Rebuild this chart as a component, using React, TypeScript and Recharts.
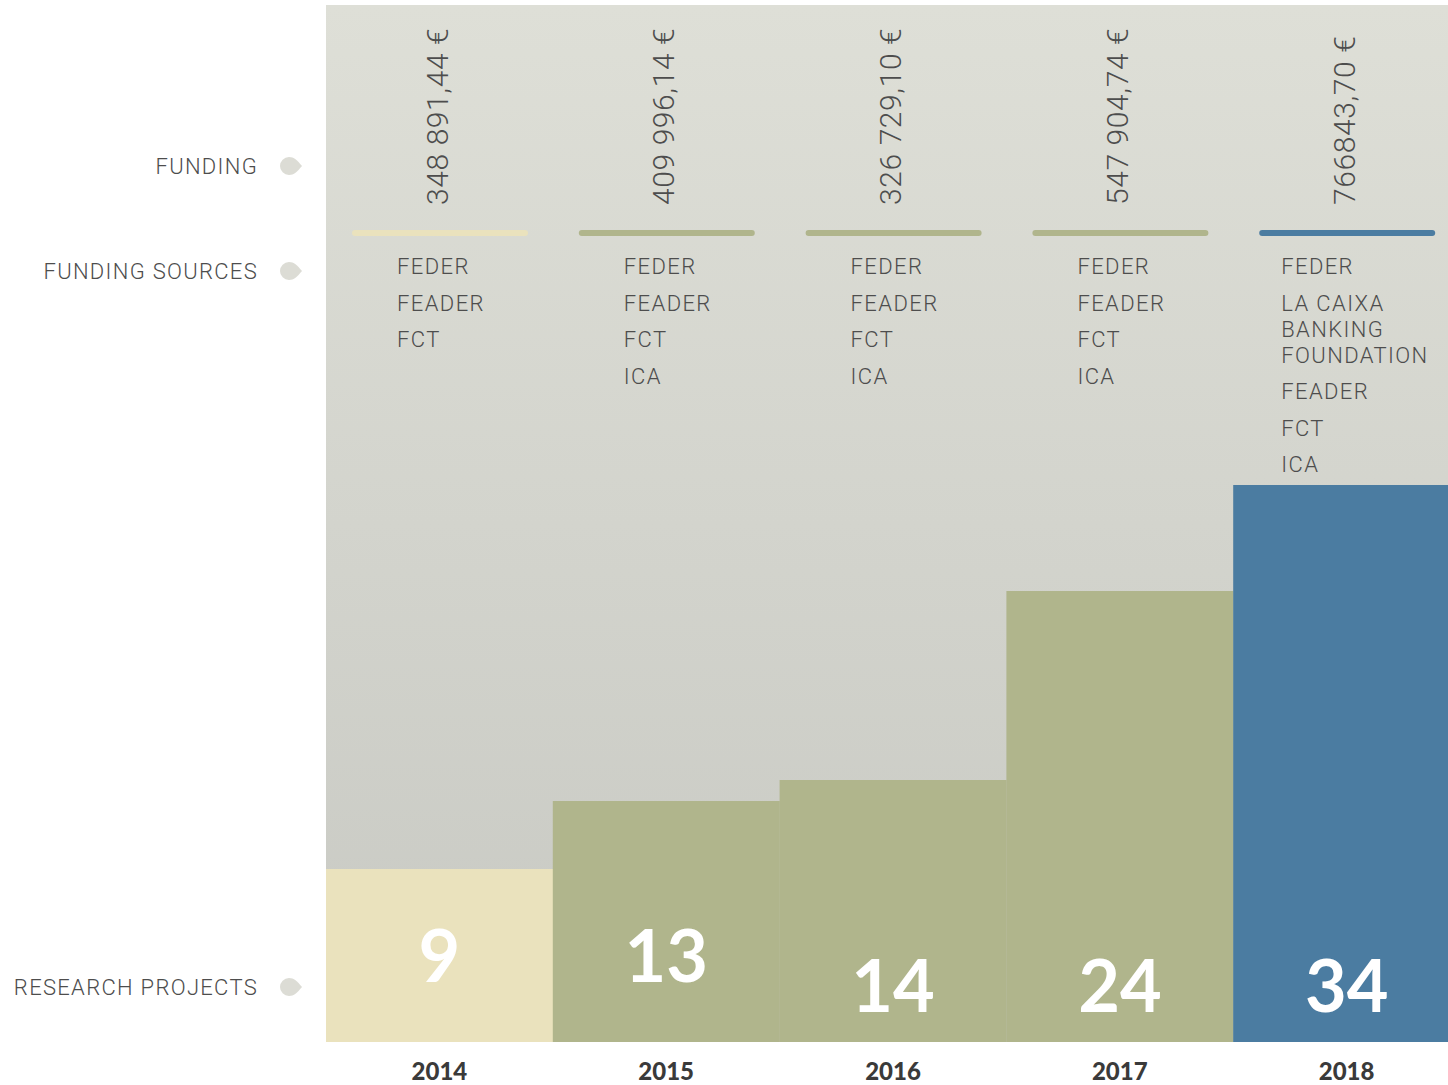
import React from 'react';
import { BarChart, Bar, XAxis, YAxis, CartesianGrid, Cell, LabelList, Customized } from 'recharts';

// values
const years = ['2014', '2015', '2016', '2017', '2018'];
const projects = [9, 13, 14, 24, 34];
// bar top as drawn (plot is 1037 units tall, not proportional to project count)
const barLevel = [173, 241, 262, 451, 557];
const funding = ['348 891,44 €', '409 996,14 €', '326 729,10 €', '547 904,74 €', '766843,70 €'];
const sources = [
  ['FEDER', 'FEADER', 'FCT'],
  ['FEDER', 'FEADER', 'FCT', 'ICA'],
  ['FEDER', 'FEADER', 'FCT', 'ICA'],
  ['FEDER', 'FEADER', 'FCT', 'ICA'],
  ['FEDER', 'LA CAIXA BANKING FOUNDATION', 'FEADER', 'FCT', 'ICA'],
];
const rowLabels = ['FUNDING', 'FUNDING SOURCES', 'RESEARCH PROJECTS'];

const colors = ['#eae2bd', '#b0b58c', '#b0b58c', '#b0b58c', '#4b7ca1'];

const data = years.map((year, i) => ({
  year,
  level: barLevel[i],
  projects: projects[i],
  funding: funding[i],
}));

const FONT = 'Roboto, "Noto Sans", sans-serif';
const TEXT = '#4d4d4d';
const PLOT_TOP = 5;

const wrap = (s: string, max: number) => {
  const words = s.split(' ');
  const lines: string[] = [];
  let cur = '';
  words.forEach((w) => {
    if (cur && (cur + ' ' + w).length > max) {
      lines.push(cur);
      cur = w;
    } else {
      cur = cur ? cur + ' ' + w : w;
    }
  });
  if (cur) lines.push(cur);
  return lines;
};

// funding amount, coloured rule and source list at the top of each column
const renderTop = (props: any) => {
  const { x, width, index } = props;
  const i = index ?? 0;
  const cx = x + width / 2;
  const items = sources[i].map((s) => wrap(s, 10));
  const hasWrap = items.some((l) => l.length > 1);
  const tx = hasWrap ? x + 48 : x + 71;
  let y = PLOT_TOP + 269;
  const texts: React.ReactNode[] = [];
  items.forEach((lines, k) => {
    lines.forEach((line, j) => {
      texts.push(
        <text key={`${k}-${j}`} x={tx} y={y} fontFamily={FONT} fontSize={22} fontWeight={300} letterSpacing={1.4} fill={TEXT}>
          {line}
        </text>
      );
      if (j < lines.length - 1) y += 26;
    });
    y += 36.6;
  });
  return (
    <g>
      <text
        x={cx + 8}
        y={PLOT_TOP + 200}
        transform={`rotate(-90 ${cx + 8} ${PLOT_TOP + 200})`}
        fontFamily={FONT}
        fontSize={30}
        fontWeight={300}
        letterSpacing={0.6}
        fill={TEXT}
      >
        {funding[i]}
      </text>
      <line x1={x + 29} x2={x + width - 28} y1={PLOT_TOP + 228} y2={PLOT_TOP + 228} stroke={colors[i]} strokeWidth={6} strokeLinecap="round" />
      {texts}
    </g>
  );
};

const renderCount = (props: any) => {
  const { x, y, width, height, value, index } = props;
  const base = y + height - (index < 2 ? 60 : 30);
  return (
    <text x={x + width / 2} y={base} textAnchor="middle" fontFamily="Lato, sans-serif" fontWeight={700} fontSize={72} fill="#ffffff">
      {value}
    </text>
  );
};

const YearTick = (props: any) => {
  const { x, payload } = props;
  return (
    <text x={x} y={1080} textAnchor="middle" fontFamily="Lato, sans-serif" fontWeight={900} fontSize={24} fill="#3a3a3a">
      {payload.value}
    </text>
  );
};

const marker = (cx: number, cy: number) =>
  `M ${cx + 13} ${cy} C ${cx + 8} ${cy - 6} ${cx + 5} ${cy - 9} ${cx} ${cy - 9} A 9 9 0 0 0 ${cx} ${cy + 9} C ${cx + 5} ${cy + 9} ${cx + 8} ${cy + 6} ${cx + 13} ${cy} Z`;

const LeftLabels = () => {
  const rows = [166, 271, 987];
  return (
    <g>
      {rowLabels.map((label, i) => (
        <g key={label}>
          <text x={258} y={rows[i] + 8} textAnchor="end" fontFamily={FONT} fontSize={22} fontWeight={300} letterSpacing={1.3} fill={TEXT}>
            {label}
          </text>
          <path d={marker(289, rows[i])} fill="#dcdcd5" />
        </g>
      ))}
    </g>
  );
};

const App = () => {
  return (
    <div style={{ position: 'absolute', left: 0, top: 0, width: 1448, height: 1085, overflow: 'hidden', background: '#fff' }}>
      <BarChart
        width={1460}
        height={1085}
        data={data}
        margin={{ top: PLOT_TOP, right: 0, left: 326, bottom: 0 }}
        barCategoryGap={0}
        barGap={0}
      >
        <defs>
          <linearGradient id="bg" x1="0" y1="0" x2="0" y2="1">
            <stop offset="0%" stopColor="#dedfd7" />
            <stop offset="100%" stopColor="#c8c9c3" />
          </linearGradient>
        </defs>
        <CartesianGrid horizontal={false} vertical={false} fill="url(#bg)" />
        <XAxis dataKey="year" axisLine={false} tickLine={false} tick={<YearTick />} height={43} interval={0} />
        <YAxis hide domain={[0, 1037]} />
        <Bar dataKey="level" isAnimationActive={false}>
          {data.map((d, i) => (
            <Cell key={d.year} fill={colors[i]} />
          ))}
          <LabelList dataKey="funding" content={renderTop} />
          <LabelList dataKey="projects" content={renderCount} />
        </Bar>
        <Customized component={LeftLabels} />
      </BarChart>
    </div>
  );
};

export default App;
